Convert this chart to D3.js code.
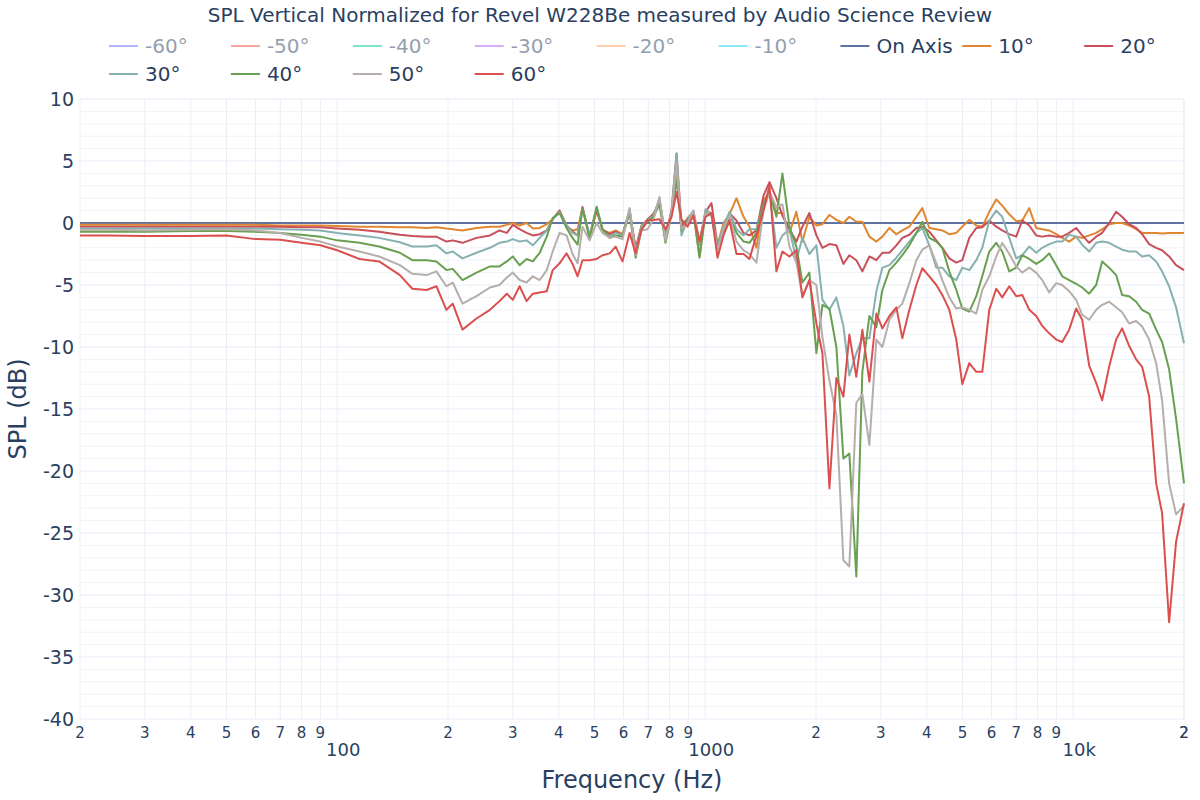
<!DOCTYPE html>
<html lang="en">
<head>
<meta charset="utf-8">
<title>SPL Vertical Normalized</title>
<script src="https://d3js.org/d3.v7.min.js" charset="utf-8"></script>
<style>
    body { margin: 0; background: #fff; }
    svg text { font-family: 'DejaVu Sans', Verdana, sans-serif; fill: #2a3f5f; }
</style>
</head>
<body>
<svg id="chart" width="1200" height="800"></svg>
<script>
// frequency points (Hz)
var freq = [
    20, 24, 30, 40, 50, 60, 70, 80, 90, 100,
    115, 130, 148, 160, 175, 186, 198, 206, 219, 239,
    260, 276, 289, 300, 313, 327, 340, 355, 371, 385,
    402, 420, 436, 450, 464, 485, 507, 526, 550, 571,
    596, 623, 647, 671, 697, 724, 751, 780, 810, 836,
    862, 895, 929, 965, 1002, 1040, 1080, 1121, 1164, 1216,
    1271, 1319, 1378, 1440, 1495, 1561, 1621, 1694, 1769, 1837,
    1919, 2005, 2082, 2175, 2272, 2374, 2464, 2574, 2673, 2793,
    2918, 3030, 3166, 3307, 3433, 3587, 3747, 3890, 4064, 4246,
    4408, 4605, 4811, 4995, 5219, 5452, 5661, 5914, 6178, 6414,
    6702, 7001, 7269, 7594, 7933, 8237, 8605, 8990, 9334, 9750,
    10186, 10576, 11050, 11544, 11985, 12520, 13080, 13580, 14187, 14822,
    15391, 16080, 16800, 17440, 18222, 19034, 20000
];

// on axis is the reference, flat at 0 dB
var onAxisFreq = [20, 20000];
var onAxis = [0, 0];

var deg10 = [
    -0.15, -0.15, -0.15, -0.15, -0.15, -0.15, -0.2, -0.2, -0.2, -0.25,
    -0.3, -0.3, -0.35, -0.35, -0.4, -0.35, -0.45, -0.5, -0.6, -0.4,
    -0.3, -0.3, -0.15, 0.0, -0.2, 0.0, -0.45, -0.4, -0.1, 0.3,
    1.0, -0.3, -0.6, -0.5, 1.2, -1.0, 1.1, -0.6, -0.8, -0.6,
    -0.9, 1.0, -2.2, -0.2, 0.2, 0.8, 1.6, -1.2, 0.9, 4.5,
    -0.4, 0.4, 0.9, -2.7, 1.0, 0.8, -1.8, 0.0, 0.7, 2.0,
    0.5, -0.3, -2.0, 1.8, 2.5, 0.8, 0.8, -0.8, 0.9, -1.5,
    0.5, -0.2, -0.1, 0.65, 0.25, 0.0, 0.5, 0.1, 0.1, -1.1,
    -1.5, -1.1, -0.4, -0.9, -0.6, -0.3, 0.5, 1.2, -0.4, -0.5,
    -0.6, -0.9, -0.8, -0.3, 0.25, -0.2, -0.3, 0.9, 1.9, 1.4,
    0.7, 0.15, 0.2, 1.2, -0.4, -0.5, -0.6, -0.9, -1.2, -1.5,
    -1.1, -1.2, -1.0, -0.8, -0.5, -0.1, 0.0, 0.0, -0.2, -0.5,
    -0.8, -0.8, -0.8, -0.85, -0.8, -0.8, -0.8
];

var deg20 = [
    -0.3, -0.3, -0.3, -0.3, -0.3, -0.3, -0.3, -0.35, -0.35, -0.45,
    -0.55, -0.7, -0.95, -1.05, -1.1, -1.1, -1.5, -1.4, -1.6, -1.2,
    -1.0, -0.6, -0.8, -0.15, -0.5, -0.8, -1.0, -0.9, -0.6, 0.3,
    1.0, -0.2, -0.7, -1.0, 1.3, -1.1, 1.0, -0.5, -0.9, -0.7,
    -1.0, 1.0, -2.0, -0.3, 0.3, 0.7, 1.8, -1.0, 1.0, 5.6,
    -0.2, 0.3, 0.8, -1.5, 0.9, 1.6, -1.8, -0.5, 0.8, 0.2,
    -0.8, -1.0, -0.6, 2.2, 3.3, 2.0, 0.6, -0.5, -1.5, -0.3,
    0.8, -1.0, -2.0, -1.7, -1.8, -3.3, -2.6, -3.0, -3.9, -2.7,
    -3.0, -2.4, -2.4, -1.8, -1.2, -0.95, -0.4, -0.3, -0.7, -1.4,
    -2.0, -2.85, -3.2, -3.0, -1.2, -0.4, -0.35, 0.2, -0.3, -0.6,
    -0.9, -1.1, 0.2, -0.2, -1.0, -1.1, -1.0, -1.1, -1.1, -0.8,
    -0.4, -1.0, -1.6, -1.1, -0.8, 0.0, 0.9, 0.5, -0.1, -0.4,
    -0.9, -1.7, -2.0, -2.2, -2.7, -3.4, -3.8
];

var deg30 = [
    -0.45, -0.45, -0.45, -0.45, -0.45, -0.45, -0.5, -0.55, -0.6, -0.8,
    -1.0, -1.2, -1.55, -1.9, -1.9, -1.8, -2.45, -2.3, -2.85, -2.4,
    -2.0, -1.6, -1.5, -1.3, -1.5, -1.4, -1.8, -1.2, -0.6, 0.3,
    0.9, -0.2, -0.8, -1.0, 1.1, -1.0, 1.3, -0.6, -1.1, -0.8,
    -1.0, 1.1, -2.3, -0.3, 0.2, 0.6, 2.0, -1.3, 0.9, 5.6,
    -1.0, 0.3, 1.0, -1.8, 1.1, 0.6, -1.8, -0.3, 0.9, -0.5,
    -1.0, -0.5, -0.5, 1.5, 2.5, -2.0, -1.0, -0.5, -3.0, -1.2,
    -2.5, -1.8, -6.2, -7.0, -6.0, -8.3, -12.3, -10.5, -9.3, -9.3,
    -5.5, -3.6, -3.4, -2.8, -2.2, -1.5, -0.8, -0.4, -1.8, -3.6,
    -3.6, -4.3, -4.6, -3.6, -3.8, -3.0, -2.0, 0.2, 1.0, 0.5,
    -1.2, -2.85, -2.6, -1.9, -2.4, -2.0, -1.7, -1.5, -1.5, -0.95,
    -1.1, -1.75, -2.3, -1.6, -1.5, -1.6, -1.9, -2.15, -2.3, -2.3,
    -2.7, -2.6, -3.1, -3.9, -5.1, -6.8, -9.7
];

var deg40 = [
    -0.7, -0.7, -0.7, -0.65, -0.65, -0.7, -0.8, -0.95, -1.1, -1.4,
    -1.6, -1.9, -2.4, -3.0, -3.0, -3.1, -3.8, -3.7, -4.6, -4.0,
    -3.5, -3.5, -3.1, -2.7, -3.4, -2.9, -3.1, -2.4, -1.1, 0.4,
    0.8, -0.4, -1.2, -1.75, 1.2, -1.3, 1.3, -0.5, -1.2, -1.0,
    -1.1, 0.8, -2.8, -0.5, 0.1, 0.5, 1.5, -1.6, 0.7, 3.5,
    -0.6, 0.2, 0.8, -2.8, 0.8, 0.6, -2.0, -0.7, 0.5, -0.8,
    -1.5, -1.6, -0.8, 1.5, 2.5, 0.5, 4.0, -0.3, -1.9, -4.8,
    -4.0, -10.5, -6.6, -6.9, -10.0, -19.0, -18.6, -28.5, -12.0, -7.5,
    -8.4, -5.4, -3.8, -3.2, -2.6, -1.8, -0.8, 0.1, -1.2, -1.5,
    -2.0, -3.9, -5.4, -6.9, -7.15, -5.9, -4.3, -2.3, -1.6, -2.3,
    -3.9, -3.6, -2.6, -2.9, -3.3, -3.0, -2.45, -3.4, -4.3, -4.6,
    -4.9, -5.2, -5.7, -5.0, -3.1, -3.6, -4.2, -5.8, -5.9, -6.35,
    -7.0, -7.3, -8.6, -9.6, -11.8, -15.8, -21.0
];

var deg50 = [
    -0.55, -0.55, -0.6, -0.55, -0.5, -0.6, -0.8, -1.2, -1.5, -1.9,
    -2.3, -2.7, -3.4, -4.1, -4.2, -3.9, -5.1, -4.8, -6.5, -5.9,
    -5.2, -5.0, -4.4, -4.0, -4.6, -4.8, -4.3, -4.6, -3.8, -2.3,
    -0.8, -1.0, -2.5, -3.25, -0.3, -1.4, 0.0, -0.8, -1.2, -1.1,
    -1.3, 1.2, -2.6, -0.6, -0.5, 0.3, 2.1, -1.4, 0.8, 4.8,
    -0.5, 0.0, 1.0, -1.5, 0.8, 0.6, -2.2, -0.5, 0.6, -1.5,
    -2.2, -2.5, -3.2, 1.0, 2.5, 1.3, 1.5, -1.9, -3.2, -5.9,
    -4.6, -5.0, -9.2, -12.7, -15.5, -27.2, -27.7, -14.5, -13.8, -17.9,
    -9.4, -10.0, -7.8, -7.0, -6.5, -4.85, -3.0, -2.15, -1.8, -3.25,
    -4.6, -6.0, -6.9, -6.8, -7.0, -7.3, -5.4, -4.3, -2.7, -1.6,
    -2.5, -3.5, -4.0, -3.6, -4.0, -4.6, -5.6, -4.85, -5.0, -5.5,
    -6.2, -7.4, -7.8, -7.0, -6.6, -6.35, -6.8, -7.2, -8.1, -7.9,
    -8.35, -9.4, -11.3, -14.3, -21.0, -23.5, -22.8
];

var deg60 = [
    -1.0, -1.0, -1.05, -1.05, -1.0, -1.3, -1.35, -1.6, -1.8, -2.2,
    -2.9, -3.1, -4.2, -5.3, -5.4, -5.1, -7.0, -6.5, -8.6, -7.7,
    -7.0, -6.3, -5.7, -6.2, -5.1, -6.3, -5.7, -5.6, -5.5, -3.8,
    -3.25, -2.45, -3.3, -4.3, -3.0, -3.0, -2.9, -2.6, -2.45, -1.9,
    -3.1, -0.8, -2.45, -0.56, 0.2, 0.24, 0.3, -0.5, 0.5, 2.5,
    0.3, -0.3, 0.6, -1.5, 0.5, 0.8, -2.8, -1.0, 0.2, -2.5,
    -2.5, -2.9, -1.0, 1.0, 3.0, -3.9, -2.3, -2.7, -2.2, -6.0,
    -4.6, -8.1, -10.5, -21.4, -12.5, -14.0, -9.0, -12.4, -8.6, -12.8,
    -7.3, -8.5, -7.5, -6.8, -9.3, -7.0, -5.0, -3.65, -4.3, -5.0,
    -5.8, -7.0, -9.4, -13.0, -11.3, -12.0, -12.0, -7.0, -5.3, -6.0,
    -5.1, -5.9, -5.8, -7.0, -7.5, -8.3, -8.9, -9.4, -9.6, -8.6,
    -6.9, -7.8, -11.5, -12.9, -14.3, -11.6, -9.4, -8.5, -9.9, -11.0,
    -11.6, -14.0, -21.0, -23.4, -32.2, -25.7, -22.6
];

// legend entries: the negative angles are hidden traces (legend only)
var hiddenNames = ['-60°', '-50°', '-40°', '-30°', '-20°', '-10°'];
var hiddenColors = ['#636efa', '#EF553B', '#00cc96', '#ab63fa', '#FFA15A', '#19d3f3'];
var shownNames = ['On Axis', '10°', '20°', '30°', '40°', '50°', '60°'];
var shownColors = ['#5f73a3', '#e0862e', '#c9505a', '#86b1b0', '#68a050', '#b5aeaa', '#dc4f4f'];
var yTicks = [-40, -35, -30, -25, -20, -15, -10, -5, 0, 5, 10];

function draw() {
    var left = 80, right = 1184, top = 99, bottom = 719;
    var svg = d3.select('#chart');

    var x = d3.scaleLog().domain([20, 20000]).range([left, right]);
    var y = d3.scaleLinear().domain([-40, 10]).range([bottom, top]);

    // grid
    var grid = svg.append('g');
    grid.selectAll('line.ym')
        .data(d3.range(-40, 11, 1))
        .enter().append('line')
        .attr('x1', left).attr('x2', right)
        .attr('y1', function (d) { return y(d); })
        .attr('y2', function (d) { return y(d); })
        .style('stroke', function (d) { return d % 5 === 0 ? '#e6ecf5' : '#f0f3f8'; })
        .style('stroke-width', 1);

    var xGrid = [];
    [10, 100, 1000, 10000].forEach(function (dec) {
        for (var m = 1; m <= 9; m++) {
            var f = m * dec;
            if (f >= 20 && f <= 20000) xGrid.push(f);
        }
    });
    xGrid.push(20000);
    grid.selectAll('line.xg')
        .data(xGrid)
        .enter().append('line')
        .attr('x1', function (d) { return x(d); })
        .attr('x2', function (d) { return x(d); })
        .attr('y1', top).attr('y2', bottom)
        .style('stroke', '#e9eef6')
        .style('stroke-width', 1);

    // y tick labels
    svg.append('g').selectAll('text')
        .data(yTicks)
        .enter().append('text')
        .attr('x', 74)
        .attr('y', function (d) { return y(d); })
        .attr('dy', '0.36em')
        .attr('text-anchor', 'end')
        .style('font-size', '19px')
        .text(function (d) { return d; });

    // x tick labels: digits for minor, full values for decades
    var minor = xGrid.filter(function (f) { return String(f)[0] !== '1'; });
    svg.append('g').selectAll('text')
        .data(minor)
        .enter().append('text')
        .attr('x', function (d) { return x(d); })
        .attr('y', 738)
        .attr('text-anchor', 'middle')
        .style('font-size', '15px')
        .text(function (d) { return String(d)[0]; });

    var major = [100, 1000, 10000];
    svg.append('g').selectAll('text')
        .data(major)
        .enter().append('text')
        .attr('x', function (d) { return x(d) + 6; })
        .attr('y', 756)
        .attr('text-anchor', 'middle')
        .style('font-size', '18px')
        .text(function (d) { return d === 10000 ? '10k' : d; });

    // traces
    var line = d3.line()
        .x(function (d) { return x(d[0]); })
        .y(function (d) { return y(d[1]); });

    var series = [
        [onAxisFreq, onAxis], [freq, deg10], [freq, deg20], [freq, deg30],
        [freq, deg40], [freq, deg50], [freq, deg60]
    ];
    series.forEach(function (s, i) {
        var pts = d3.zip(s[0], s[1]);
        svg.append('path')
            .datum(pts)
            .attr('d', line)
            .style('fill', 'none')
            .style('stroke', shownColors[i])
            .style('stroke-width', 2)
            .style('stroke-linejoin', 'round');
    });

    // titles
    svg.append('text')
        .attr('x', 600).attr('y', 22)
        .attr('text-anchor', 'middle')
        .style('font-size', '20px')
        .text('SPL Vertical Normalized for Revel W228Be measured by Audio Science Review');

    svg.append('text')
        .attr('x', (left + right) / 2).attr('y', 788)
        .attr('text-anchor', 'middle')
        .style('font-size', '24px')
        .text('Frequency (Hz)');

    svg.append('text')
        .attr('transform', 'translate(26,' + ((top + bottom) / 2) + ') rotate(-90)')
        .attr('text-anchor', 'middle')
        .style('font-size', '24px')
        .text('SPL (dB)');

    // legend
    var items = [];
    hiddenNames.forEach(function (n, i) { items.push({ name: n, color: hiddenColors[i], hidden: true }); });
    shownNames.forEach(function (n, i) { items.push({ name: n, color: shownColors[i], hidden: false }); });

    var lg = svg.append('g');
    items.forEach(function (it, i) {
        var row = i < 9 ? 0 : 1;
        var col = i < 9 ? i : i - 9;
        var gx = 109 + col * 121.9;
        var gy = row === 0 ? 46 : 74;
        var g = lg.append('g').style('opacity', it.hidden ? 0.5 : 1);
        g.append('line')
            .attr('x1', gx).attr('x2', gx + 29)
            .attr('y1', gy).attr('y2', gy)
            .style('stroke', it.color)
            .style('stroke-width', 2);
        g.append('text')
            .attr('x', gx + 36).attr('y', gy)
            .attr('dy', '0.36em')
            .style('font-size', '20px')
            .text(it.name);
    });
}

draw();
</script>
</body>
</html>
